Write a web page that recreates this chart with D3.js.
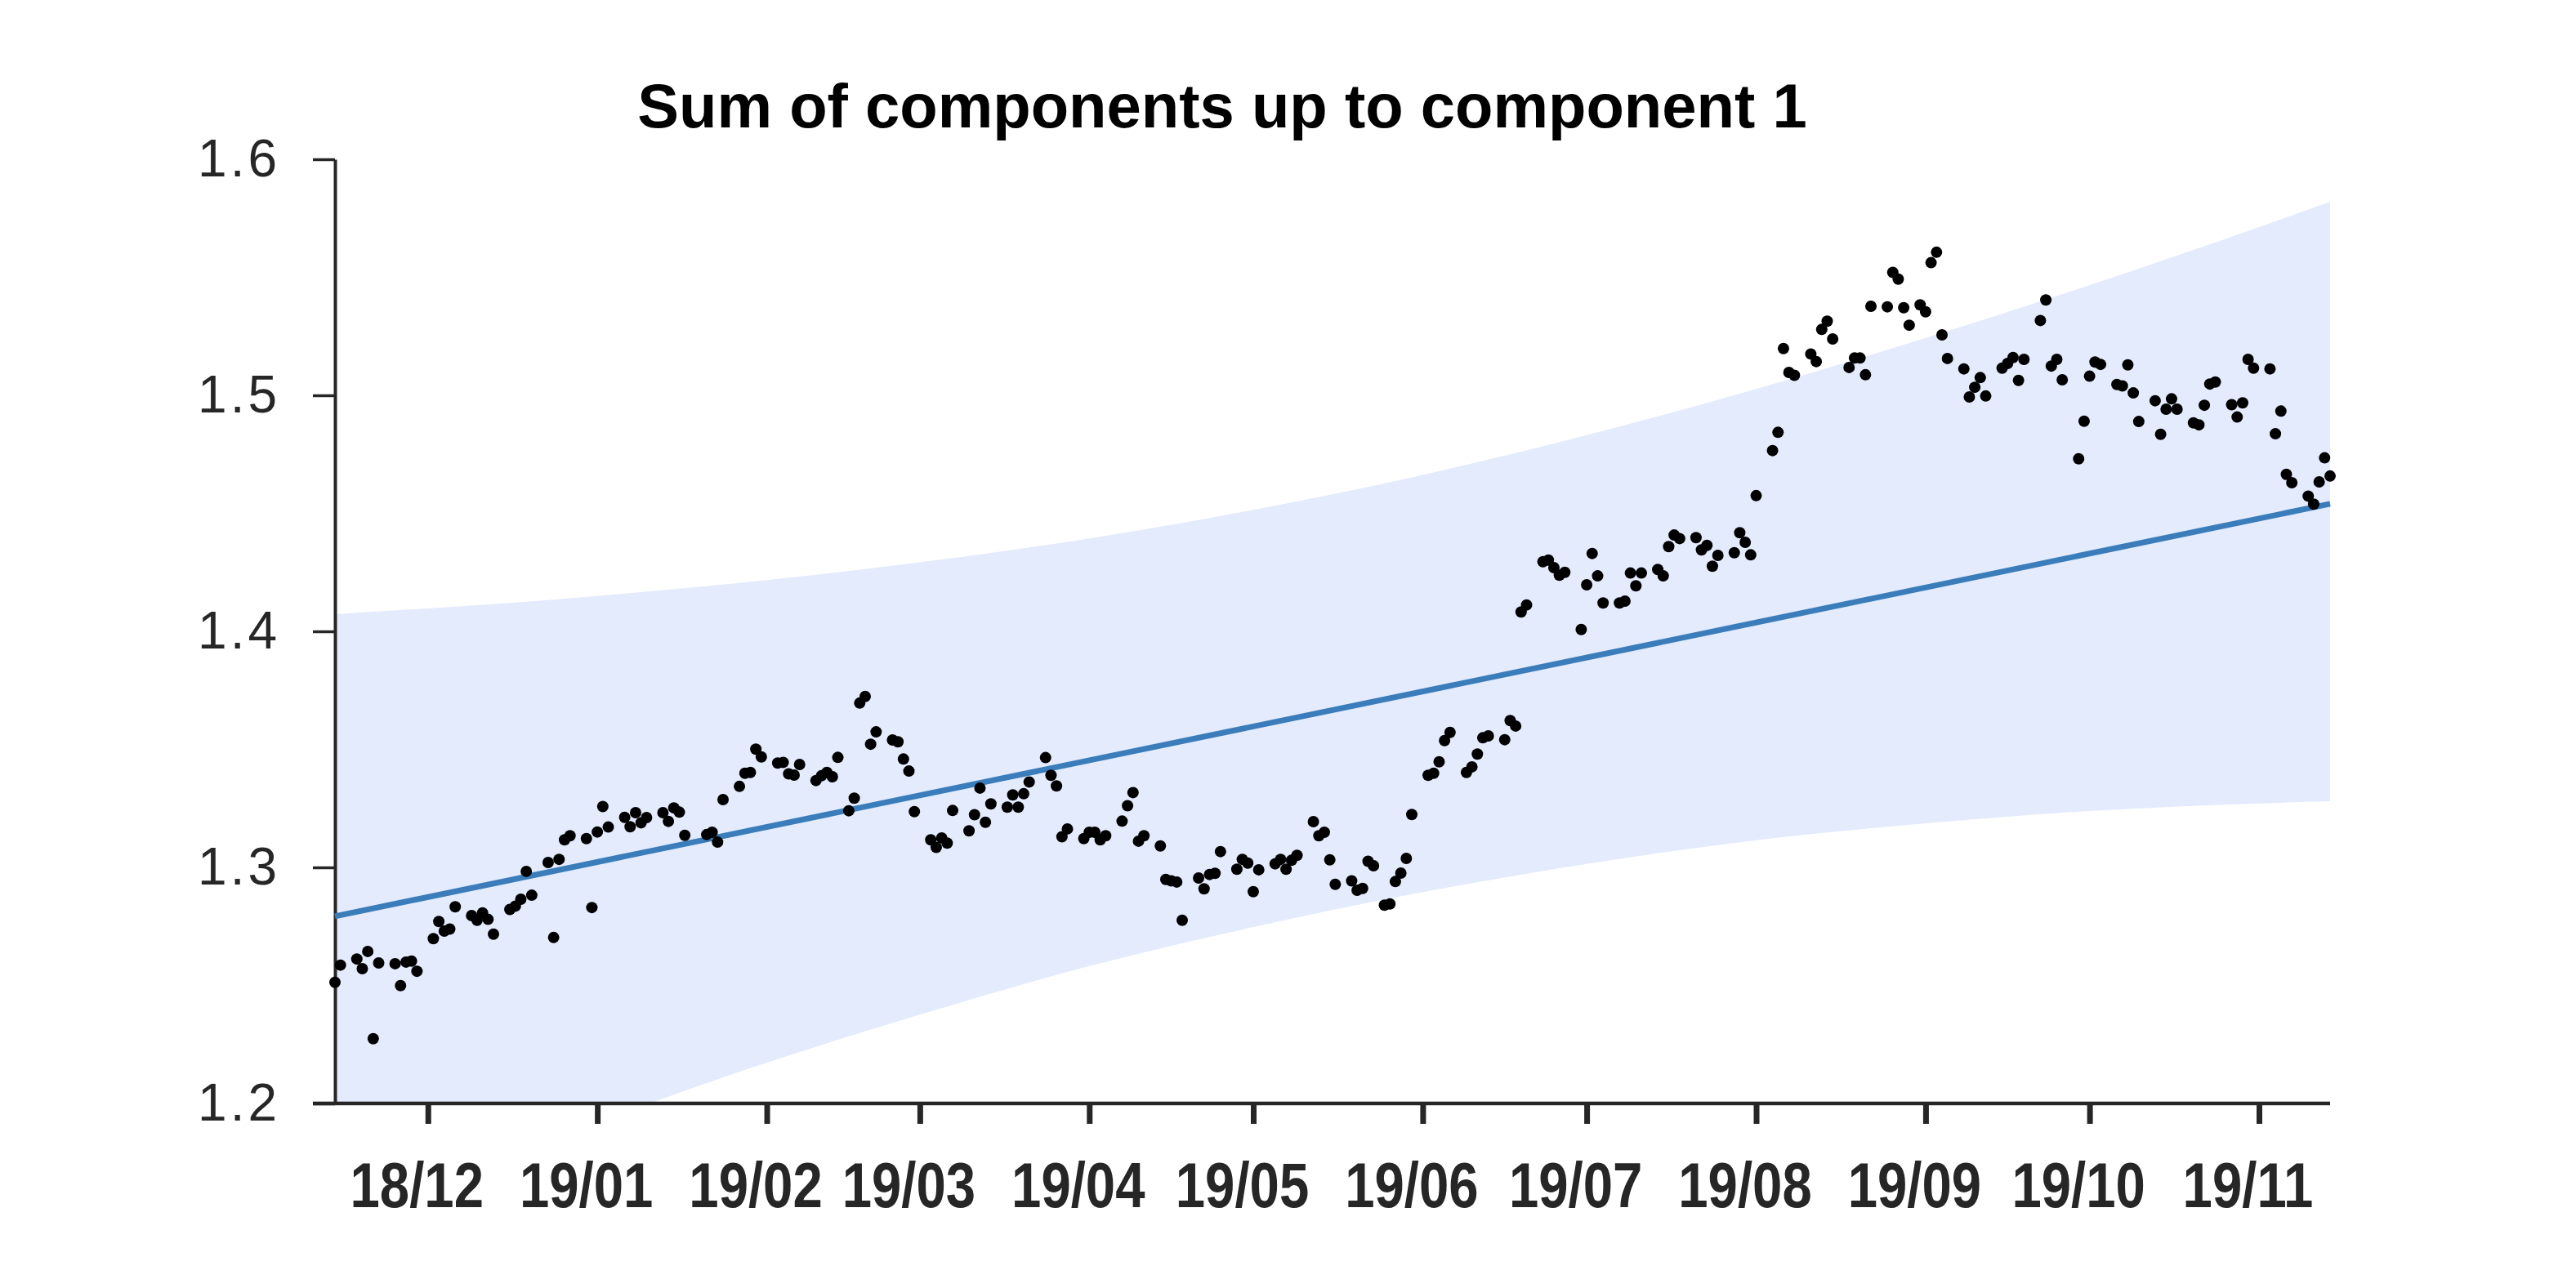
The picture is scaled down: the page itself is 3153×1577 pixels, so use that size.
<!DOCTYPE html>
<html>
<head>
<meta charset="utf-8">
<script src="https://cdn.jsdelivr.net/npm/d3@7"></script>
<style>
  html, body { margin: 0; padding: 0; background: #ffffff; }
  svg { display: block; }
</style>
</head>
<body>
<svg id="chart" width="3153" height="1577"></svg>
<script>
// ---------------- data ----------------
const titleText = "Sum of components up to component 1";

const dates = [
  "2018-11-14","2018-11-15",
  "2018-11-18","2018-11-19","2018-11-20","2018-11-21","2018-11-22",
  "2018-11-25","2018-11-26","2018-11-27","2018-11-28","2018-11-29",
  "2018-12-02","2018-12-03","2018-12-04","2018-12-05","2018-12-06",
  "2018-12-09","2018-12-10","2018-12-11","2018-12-12","2018-12-13",
  "2018-12-16","2018-12-17","2018-12-18","2018-12-19","2018-12-20",
  "2018-12-23","2018-12-24","2018-12-25","2018-12-26","2018-12-27",
  "2018-12-30","2018-12-31","2019-01-01","2019-01-02","2019-01-03",
  "2019-01-06","2019-01-07","2019-01-08","2019-01-09","2019-01-10",
  "2019-01-13","2019-01-14","2019-01-15","2019-01-16","2019-01-17",
  "2019-01-21","2019-01-22","2019-01-23","2019-01-24",
  "2019-01-27","2019-01-28","2019-01-29","2019-01-30","2019-01-31",
  "2019-02-03","2019-02-04","2019-02-05","2019-02-06","2019-02-07",
  "2019-02-10","2019-02-11","2019-02-12","2019-02-13","2019-02-14",
  "2019-02-16","2019-02-17","2019-02-18","2019-02-19","2019-02-20","2019-02-21",
  "2019-02-24","2019-02-25","2019-02-26","2019-02-27","2019-02-28",
  "2019-03-03","2019-03-04","2019-03-05","2019-03-06","2019-03-07",
  "2019-03-10","2019-03-11","2019-03-12","2019-03-13","2019-03-14",
  "2019-03-17","2019-03-18","2019-03-19","2019-03-20","2019-03-21",
  "2019-03-24","2019-03-25","2019-03-26","2019-03-27","2019-03-28",
  "2019-03-31","2019-04-01","2019-04-02","2019-04-03","2019-04-04",
  "2019-04-07","2019-04-08","2019-04-09","2019-04-10","2019-04-11",
  "2019-04-14","2019-04-15","2019-04-16","2019-04-17","2019-04-18",
  "2019-04-21","2019-04-22","2019-04-23","2019-04-24","2019-04-25",
  "2019-04-28","2019-04-29","2019-04-30","2019-05-01","2019-05-02",
  "2019-05-05","2019-05-06","2019-05-07","2019-05-08","2019-05-09",
  "2019-05-12","2019-05-13","2019-05-14","2019-05-15","2019-05-16",
  "2019-05-19","2019-05-20","2019-05-21","2019-05-22","2019-05-23",
  "2019-05-25","2019-05-26","2019-05-27","2019-05-28","2019-05-29","2019-05-30",
  "2019-06-02","2019-06-03","2019-06-04","2019-06-05","2019-06-06",
  "2019-06-09","2019-06-10","2019-06-11","2019-06-12","2019-06-13",
  "2019-06-16","2019-06-17","2019-06-18","2019-06-19","2019-06-20",
  "2019-06-23","2019-06-24","2019-06-25","2019-06-26","2019-06-27",
  "2019-06-30","2019-07-01","2019-07-02","2019-07-03","2019-07-04",
  "2019-07-07","2019-07-08","2019-07-09","2019-07-10","2019-07-11",
  "2019-07-14","2019-07-15","2019-07-16","2019-07-17","2019-07-18",
  "2019-07-21","2019-07-22","2019-07-23","2019-07-24","2019-07-25",
  "2019-07-28","2019-07-29","2019-07-30","2019-07-31","2019-08-01",
  "2019-08-04","2019-08-05","2019-08-06","2019-08-07","2019-08-08",
  "2019-08-11","2019-08-12","2019-08-13","2019-08-14","2019-08-15",
  "2019-08-18","2019-08-19","2019-08-20","2019-08-21","2019-08-22",
  "2019-08-25","2019-08-26","2019-08-27","2019-08-28","2019-08-29",
  "2019-08-31","2019-09-01","2019-09-02","2019-09-03","2019-09-04","2019-09-05",
  "2019-09-08","2019-09-09","2019-09-10","2019-09-11","2019-09-12",
  "2019-09-15","2019-09-16","2019-09-17","2019-09-18","2019-09-19",
  "2019-09-22","2019-09-23","2019-09-24","2019-09-25","2019-09-26",
  "2019-09-29","2019-09-30","2019-10-01","2019-10-02","2019-10-03",
  "2019-10-06","2019-10-07","2019-10-08","2019-10-09","2019-10-10",
  "2019-10-13","2019-10-14","2019-10-15","2019-10-16","2019-10-17",
  "2019-10-20","2019-10-21","2019-10-22","2019-10-23","2019-10-24",
  "2019-10-27","2019-10-28","2019-10-29","2019-10-30","2019-10-31",
  "2019-11-03","2019-11-04","2019-11-05","2019-11-06","2019-11-07",
  "2019-11-10","2019-11-11","2019-11-12","2019-11-13","2019-11-14"
];

const values = [
  1.2513,1.2586,
  1.2612,1.2571,1.2644,1.2274,1.2595,
  1.2592,1.2499,1.2599,1.2603,1.2560,
  1.2698,1.2771,1.2730,1.2739,1.2833,
  1.2796,1.2776,1.2807,1.2780,1.2717,
  1.2822,1.2836,1.2865,1.2983,1.2882,
  1.3021,1.2703,1.3034,1.3117,1.3134,
  1.3122,1.2830,1.3150,1.3258,1.3171,
  1.3212,1.3172,1.3232,1.3189,1.3211,
  1.3232,1.3195,1.3252,1.3234,1.3136,
  1.3139,1.3149,1.3107,1.3287,
  1.3343,1.3399,1.3402,1.3501,1.3468,
  1.3442,1.3445,1.3396,1.3391,1.3436,
  1.3368,1.3388,1.3402,1.3384,1.3466,
  1.3240,1.3293,1.3696,1.3724,1.3522,1.3574,
  1.3540,1.3532,1.3459,1.3408,1.3236,
  1.3117,1.3085,1.3125,1.3103,1.3241,
  1.3155,1.3223,1.3336,1.3191,1.3269,
  1.3255,1.3307,1.3255,1.3312,1.3362,
  1.3465,1.3390,1.3345,1.3130,1.3163,
  1.3122,1.3149,1.3149,1.3117,1.3134,
  1.3196,1.3261,1.3317,1.3111,1.3134,
  1.3091,1.2949,1.2943,1.2938,1.2776,
  1.2955,1.2909,1.2970,1.2975,1.3067,
  1.2992,1.3034,1.3018,1.2897,1.2990,
  1.3015,1.3034,1.2992,1.3030,1.3051,
  1.3194,1.3134,1.3149,1.3032,1.2928,
  1.2943,1.2903,1.2911,1.3026,1.3007,
  1.2840,1.2845,1.2940,1.2976,1.3038,1.3224,
  1.3390,1.3399,1.3447,1.3537,1.3572,
  1.3402,1.3426,1.3480,1.3549,1.3557,
  1.3541,1.3622,1.3599,1.4082,1.4112,
  1.4295,1.4302,1.4270,1.4238,1.4250,
  1.4008,1.4197,1.4330,1.4235,1.4120,
  1.4120,1.4128,1.4247,1.4193,1.4247,
  1.4262,1.4235,1.4359,1.4408,1.4393,
  1.4397,1.4345,1.4364,1.4276,1.4322,
  1.4333,1.4418,1.4377,1.4324,1.4575,
  1.4766,1.4843,1.5198,1.5097,1.5085,
  1.5175,1.5143,1.5279,1.5314,1.5239,
  1.5118,1.5158,1.5158,1.5087,1.5377,
  1.5375,1.5521,1.5492,1.5371,1.5297,
  1.5383,1.5354,1.5562,1.5606,1.5256,1.5156,
  1.5112,1.4993,1.5034,1.5075,1.4997,
  1.5115,1.5135,1.5160,1.5063,1.5152,
  1.5317,1.5404,1.5124,1.5152,1.5066,
  1.4731,1.4890,1.5081,1.5141,1.5131,
  1.5046,1.5040,1.5129,1.5010,1.4889,
  1.4977,1.4835,1.4941,1.4985,1.4941,
  1.4883,1.4875,1.4958,1.5048,1.5056,
  1.4960,1.4908,1.4968,1.5152,1.5115,
  1.5112,1.4837,1.4933,1.4665,1.4630,
  1.4573,1.4539,1.4633,1.4735,1.4658
];

// fitted trend (straight line) end points
const trendDates  = ["2018-11-14", "2019-11-14"];
const trendValues = [1.2793, 1.4540];

// uncertainty band read at month boundaries
const bandDates = [
  "2018-11-14","2018-12-01","2019-01-01","2019-02-01","2019-03-01","2019-04-01",
  "2019-05-01","2019-06-01","2019-07-01","2019-08-01","2019-09-01","2019-10-01",
  "2019-11-01","2019-11-14"
];
const bandUpper = [1.4073,1.4097,1.4150,1.4217,1.4292,1.4394,1.4515,1.4663,1.4831,1.5027,1.5243,1.5467,1.5713,1.5820];
const bandLower = [1.1523,1.1669,1.1922,1.2173,1.2376,1.2582,1.2747,1.2895,1.3015,1.3115,1.3187,1.3239,1.3271,1.3280];

const yTicks = [1.2, 1.3, 1.4, 1.5, 1.6];
const xTickDates = ["2018-12-01","2019-01-01","2019-02-01","2019-03-01","2019-04-01","2019-05-01",
                    "2019-06-01","2019-07-01","2019-08-01","2019-09-01","2019-10-01","2019-11-01"];

// ---------------- layout ----------------
const parse = d3.timeParse("%Y-%m-%d");
const plot = { left: 410, right: 2852, top: 195, bottom: 1351 };
const font = "'Liberation Sans', Arial, Helvetica, sans-serif";
const axisColor = "#262626";

const svg = d3.select("#chart");

const x = d3.scaleTime()
  .domain([parse("2018-11-14"), parse("2019-11-14")])
  .range([plot.left, plot.right]);
const y = d3.scaleLinear()
  .domain([1.2, 1.6])
  .range([plot.bottom, plot.top]);

// clip
svg.append("defs").append("clipPath").attr("id", "plotclip")
  .append("rect")
  .attr("x", plot.left).attr("y", plot.top)
  .attr("width", plot.right - plot.left).attr("height", plot.bottom - plot.top);

// band
const bandData = bandDates.map((d, i) => ({ date: parse(d), lo: bandLower[i], hi: bandUpper[i] }));
const area = d3.area()
  .x(d => x(d.date))
  .y0(d => y(d.lo))
  .y1(d => y(d.hi))
  .curve(d3.curveMonotoneX);
svg.append("g").attr("clip-path", "url(#plotclip)")
  .append("path")
  .datum(bandData)
  .attr("d", area)
  .attr("fill", "#e3ebfd");

// axes
const xAxis = d3.axisBottom(x)
  .tickValues(xTickDates.map(parse))
  .tickFormat(d3.timeFormat("%y/%m"))
  .tickSizeInner(25)
  .tickSizeOuter(0)
  .tickPadding(0);
const gx = svg.append("g")
  .attr("transform", `translate(0,${plot.bottom})`)
  .call(xAxis);
gx.select(".domain").attr("stroke", axisColor).attr("stroke-width", 4.5)
  .attr("d", `M${plot.left - 27},0H${plot.right}`);
gx.selectAll(".tick line").attr("stroke", axisColor).attr("stroke-width", 7);
gx.selectAll(".tick text")
  .attr("fill", axisColor)
  .attr("y", 0)
  .attr("dy", 0)
  .attr("transform", "translate(-14,127) scale(0.92,1.1)")
  .style("font-family", font)
  .style("font-weight", "bold")
  .style("font-size", "71px");

const yAxis = d3.axisLeft(y)
  .tickValues(yTicks)
  .tickFormat(d3.format(".1f"))
  .tickSizeInner(27)
  .tickSizeOuter(0)
  .tickPadding(40);
const gy = svg.append("g")
  .attr("transform", `translate(${plot.left},0)`)
  .call(yAxis);
gy.select(".domain").attr("stroke", axisColor).attr("stroke-width", 4);
gy.selectAll(".tick line").attr("stroke", axisColor).attr("stroke-width", 3.5);
gy.selectAll(".tick text")
  .attr("fill", axisColor)
  .style("font-family", font)
  .style("font-size", "64px")
  .style("letter-spacing", "4px");

// trend line
const trendData = trendDates.map((d, i) => ({ date: parse(d), v: trendValues[i] }));
svg.append("path")
  .datum(trendData)
  .attr("d", d3.line().x(d => x(d.date)).y(d => y(d.v)))
  .attr("fill", "none")
  .attr("stroke", "#3a7dba")
  .attr("stroke-width", 7);

// points
const pts = dates.map((d, i) => ({ date: parse(d), v: values[i] }));
svg.append("g")
  .selectAll("circle")
  .data(pts)
  .join("circle")
  .attr("cx", d => x(d.date))
  .attr("cy", d => y(d.v))
  .attr("r", 7)
  .attr("fill", "#000000");

// title
svg.append("text")
  .attr("x", 1496)
  .attr("y", 156)
  .attr("text-anchor", "middle")
  .style("font-family", font)
  .style("font-weight", "bold")
  .style("font-size", "76px")
  .attr("fill", "#000000")
  .text(titleText);
</script>
</body>
</html>
